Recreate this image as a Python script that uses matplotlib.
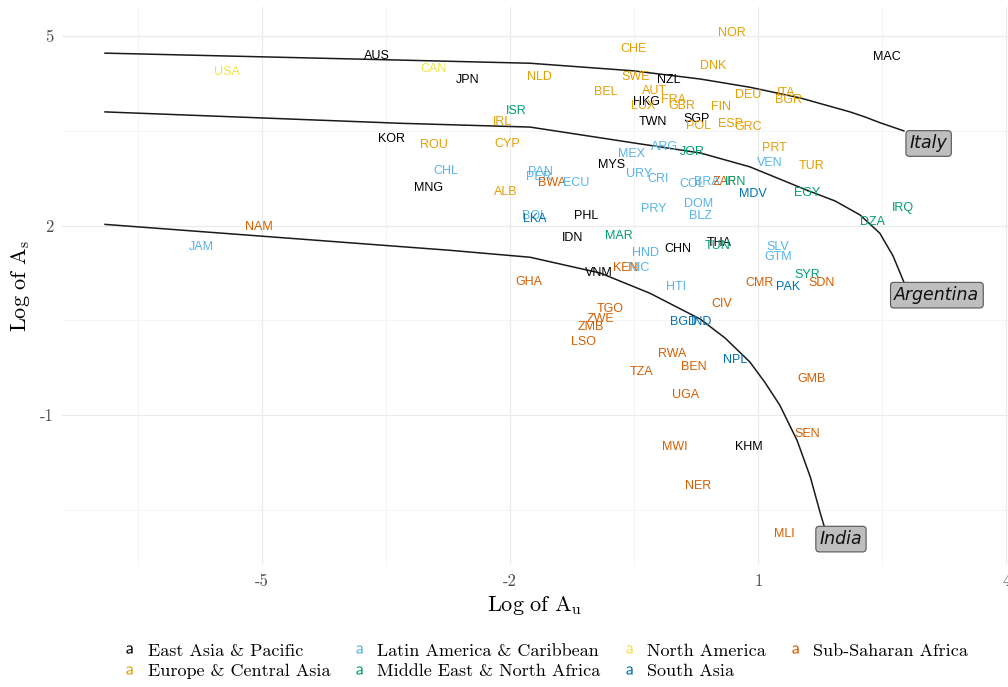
import matplotlib
matplotlib.use("Agg")
import matplotlib.pyplot as plt
from matplotlib.lines import Line2D

plt.rcParams["mathtext.fontset"] = "cm"
plt.rcParams["axes.unicode_minus"] = False

# regions and their colours
REGIONS = ["East Asia & Pacific", "Europe & Central Asia", "Latin America & Caribbean",
           "Middle East & North Africa", "North America", "South Asia", "Sub-Saharan Africa"]
REGION_COLORS = ["#000000", "#E69F00", "#56B4E9", "#009E73", "#F0E442", "#0072B2", "#D55E00"]
REG_KEYS = ["EAP", "ECA", "LAC", "MENA", "NA", "SA", "SSA"]

# country labels: code, log A_u, log A_s, region
codes = ["AUS", "USA", "CAN", "JPN", "NLD", "CHE", "NOR", "DNK", "SWE", "NZL", "MAC",
         "BEL", "AUT", "FRA", "HKG", "LUX", "GBR", "FIN", "DEU", "ITA", "BGR", "ISR",
         "IRL", "TWN", "SGP", "POL", "ESP", "GRC", "KOR", "ROU", "CYP", "MEX", "ARG",
         "JOR", "PRT", "VEN", "TUR", "MYS", "CHL", "PAN", "PER", "BWA", "ECU", "URY",
         "CRI", "COL", "BRA", "ZAF", "IRN", "MDV", "EGY", "MNG", "ALB", "PRY", "DOM",
         "BLZ", "IRQ", "DZA", "BOL", "LKA", "PHL", "NAM", "JAM", "IDN", "MAR", "THA",
         "TUN", "CHN", "HND", "SLV", "GTM", "KEN", "NIC", "VNM", "SYR", "GHA", "CMR",
         "SDN", "HTI", "PAK", "CIV", "TGO", "ZWE", "BGD", "IND", "ZMB", "LSO", "RWA",
         "NPL", "BEN", "TZA", "GMB", "UGA", "SEN", "MWI", "KHM", "NER", "MLI"]
log_au = [-3.61, -5.42, -2.93, -2.52, -1.65, -0.51, 0.68, 0.45, -0.48, -0.08, 2.56,
          -0.85, -0.26, -0.03, -0.35, -0.39, 0.08, 0.55, 0.88, 1.34, 1.37, -1.93,
          -2.09, -0.28, 0.26, 0.28, 0.66, 0.88, -3.43, -2.92, -2.03, -0.53, -0.13,
          0.20, 1.20, 1.14, 1.65, -0.77, -2.78, -1.64, -1.65, -1.49, -1.20, -0.44,
          -0.21, 0.20, 0.38, 0.59, 0.72, 0.93, 1.59, -2.99, -2.05, -0.26, 0.28,
          0.30, 2.75, 2.38, -1.71, -1.70, -1.08, -5.04, -5.73, -1.24, -0.68, 0.53,
          0.51, 0.03, -0.36, 1.24, 1.24, -0.60, -0.45, -0.93, 1.59, -1.77, 1.01,
          1.77, 0.01, 1.36, 0.56, -0.79, -0.91, 0.09, 0.32, -1.03, -1.11, -0.04,
          0.72, 0.22, -0.41, 1.64, 0.12, 1.59, -0.01, 0.88, 0.27, 1.31]
log_as = [4.68, 4.43, 4.48, 4.30, 4.35, 4.79, 5.05, 4.53, 4.35, 4.30, 4.67,
          4.11, 4.13, 3.99, 3.96, 3.89, 3.89, 3.88, 4.07, 4.10, 3.99, 3.81,
          3.64, 3.64, 3.69, 3.58, 3.61, 3.56, 3.37, 3.27, 3.29, 3.13, 3.24,
          3.16, 3.23, 2.99, 2.94, 2.96, 2.86, 2.85, 2.77, 2.67, 2.67, 2.82,
          2.74, 2.66, 2.69, 2.69, 2.69, 2.50, 2.52, 2.59, 2.53, 2.26, 2.34,
          2.15, 2.28, 2.06, 2.15, 2.10, 2.15, 1.98, 1.66, 1.80, 1.83, 1.72,
          1.68, 1.63, 1.57, 1.66, 1.50, 1.33, 1.33, 1.25, 1.22, 1.11, 1.09,
          1.09, 1.03, 1.03, 0.76, 0.68, 0.52, 0.47, 0.47, 0.39, 0.16, -0.03,
          -0.13, -0.24, -0.32, -0.43, -0.68, -1.29, -1.51, -1.51, -2.12, -2.88]
region = ["EAP", "NA", "NA", "EAP", "ECA", "ECA", "ECA", "ECA", "ECA", "EAP", "EAP",
          "ECA", "ECA", "ECA", "EAP", "ECA", "ECA", "ECA", "ECA", "ECA", "ECA", "MENA",
          "ECA", "EAP", "EAP", "ECA", "ECA", "ECA", "EAP", "ECA", "ECA", "LAC", "LAC",
          "MENA", "ECA", "LAC", "ECA", "EAP", "LAC", "LAC", "LAC", "SSA", "LAC", "LAC",
          "LAC", "LAC", "LAC", "SSA", "MENA", "SA", "MENA", "EAP", "ECA", "LAC", "LAC",
          "LAC", "MENA", "MENA", "LAC", "SA", "EAP", "SSA", "LAC", "EAP", "MENA", "EAP",
          "MENA", "EAP", "LAC", "LAC", "LAC", "SSA", "LAC", "EAP", "MENA", "SSA", "SSA",
          "SSA", "LAC", "SA", "SSA", "SSA", "SSA", "SA", "SA", "SSA", "SSA", "SSA",
          "SA", "SSA", "SSA", "SSA", "SSA", "SSA", "SSA", "EAP", "SSA", "SSA"]

# iso-income curves
italy_x = [-6.90, -3.33, -1.76, -0.51, 0.30, 0.90, 1.51, 2.11, 2.29, 2.47, 2.76]
italy_y = [4.73, 4.62, 4.57, 4.45, 4.32, 4.19, 4.02, 3.80, 3.72, 3.63, 3.50]
arg_x = [-6.90, -3.33, -1.76, -0.51, 0.30, 0.90, 1.59, 1.93, 2.23, 2.47, 2.63, 2.76]
arg_y = [3.80, 3.62, 3.56, 3.31, 3.15, 2.93, 2.56, 2.39, 2.17, 1.88, 1.52, 1.11]
india_x = [-6.90, -2.73, -1.76, -0.91, -0.31, 0.30, 0.60, 0.90, 1.08, 1.26, 1.47, 1.63,
           1.75, 1.80]
india_y = [2.02, 1.61, 1.50, 1.25, 0.93, 0.52, 0.22, -0.16, -0.48, -0.84, -1.40, -1.98,
           -2.55, -2.77]

curve_labels = ["Italy", "Argentina", "India"]
curve_label_x = [3.06, 3.16, 2.00]
curve_label_y = [3.30, 0.90, -2.96]

color_of = dict(zip(REG_KEYS, REGION_COLORS))

fig = plt.figure(figsize=(10.08, 6.87), dpi=100)
ax = fig.add_axes([62 / 1008, 122 / 687, 946 / 1008, 558 / 687])

for cx, cy in [(italy_x, italy_y), (arg_x, arg_y), (india_x, india_y)]:
    ax.plot(cx, cy, color="#1a1a1a", lw=1.1, zorder=3)

for c, x, y, r in zip(codes, log_au, log_as, region):
    ax.text(x, y, c, color=color_of[r], fontsize=9, family="Liberation Sans",
            ha="center", va="center", zorder=4)

for lab, x, y in zip(curve_labels, curve_label_x, curve_label_y):
    ax.text(x, y, lab, fontsize=12.5, style="italic", family="DejaVu Sans",
            ha="center", va="center", color="#111111", zorder=5,
            bbox=dict(boxstyle="round,pad=0.22,rounding_size=0.2", fc="#bebebe",
                      ec="#555555", lw=0.8))

ax.set_xlim(-7.42, 4.02)
ax.set_ylim(-3.37, 5.46)
ax.set_xticks([-5, -2, 1, 4])
ax.set_xticklabels(["-5", "-2", "1", "4"])
ax.set_yticks([-1, 2, 5])
ax.set_yticklabels(["-1", "2", "5"])
ax.set_xticks([-6.5, -3.5, -0.5, 2.5], minor=True)
ax.set_yticks([-2.5, 0.5, 3.5], minor=True)
ax.grid(True, which="major", color="#ebebeb", lw=0.9)
ax.grid(True, which="minor", color="#f2f2f2", lw=0.6)
ax.set_axisbelow(True)
for s in ax.spines.values():
    s.set_visible(False)
ax.tick_params(which="both", length=0)
ax.tick_params(axis="both", labelsize=12, labelcolor="#4d4d4d", pad=6)
for t in ax.get_xticklabels() + ax.get_yticklabels():
    t.set_family("cmr10")

ax.set_xlabel(r"$\mathrm{Log\ of\ A_u}$", fontsize=16, labelpad=4)
ax.set_ylabel(r"$\mathrm{Log\ of\ A_s}$", fontsize=16, labelpad=6)

handles = [Line2D([], [], ls="none", marker=r"$\mathsf{a}$", markersize=6,
                  color=c, markeredgewidth=0) for c in REGION_COLORS]
fig.legend(handles, REGIONS, ncol=4, loc="center", bbox_to_anchor=(545 / 1008, 1 - 661 / 687),
           frameon=False, prop={"family": "cmr10", "size": 13},
           handlelength=0.8, handletextpad=0.6, columnspacing=1.2, labelspacing=0.25)

fig.savefig("out.png", dpi=100)
